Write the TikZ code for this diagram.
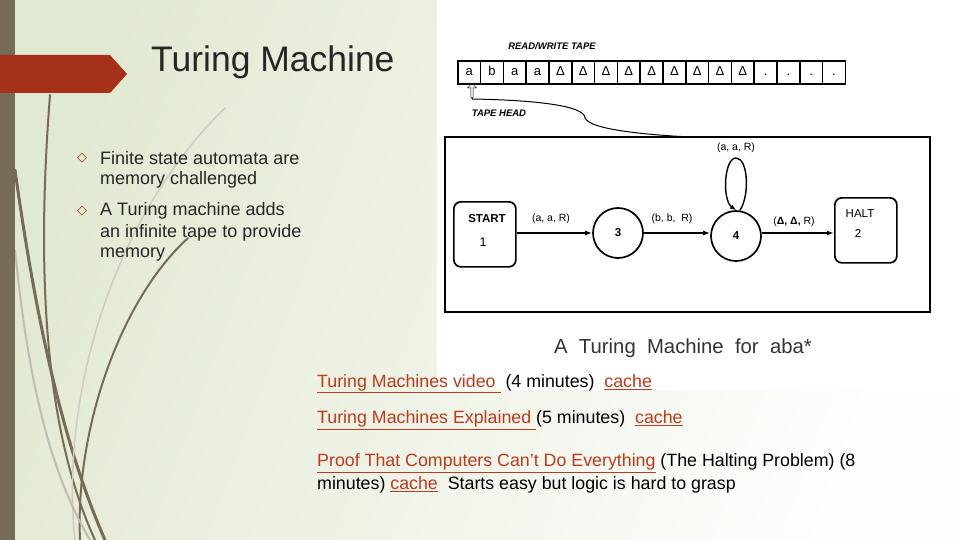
\documentclass[tikz,border=0pt]{standalone}
\usepackage{fontspec}
\setmainfont{Liberation Sans}
\newfontfamily\dejavu{DejaVu Sans}
\usetikzlibrary{arrows.meta,shapes.arrows}
\definecolor{bar}{HTML}{756B56}
\definecolor{tab}{HTML}{A5311A}
\definecolor{bgg}{HTML}{E2E9D2}
\definecolor{lnk}{HTML}{C0391B}
\begin{document}
\begin{tikzpicture}[x=1pt,y=-1pt,
  txt/.style={anchor=west,font=\fontsize{18}{21}\selectfont,text=black!85,inner sep=0pt},
  lnktxt/.style={anchor=west,font=\fontsize{17.8}{21}\selectfont,inner sep=0pt},
  cell/.style={draw,line width=1.6pt,minimum width=22.8pt,minimum height=23pt,inner sep=0pt,font=\fontsize{13}{14}\selectfont,anchor=north west,text height=8pt,text depth=1pt},
  state/.style={draw,line width=1.7pt,circle,minimum size=50pt,inner sep=0pt,font=\bfseries\fontsize{11.5}{12}\selectfont},
  sbox/.style={draw,line width=1.7pt,rounded corners=7pt,minimum width=62pt,minimum height=65pt,anchor=north west},
  lab/.style={font=\fontsize{10.5}{12}\selectfont,inner sep=0pt},
  tr/.style={line width=2pt,-{Latex[length=7pt,width=5pt]}},
  grass/.style={draw=bar,line cap=round}]
\useasboundingbox (0,0) rectangle (960,540);
\shade[left color=bgg,right color=white!97!bgg,shading angle=70] (0,0) rectangle (960,540);
\fill[white] (437,0) rectangle (960,390);
% grass
\path[grass,line width=2pt] (50,95) .. controls (38,250) and (40,420) .. (95,540);
\path[grass,line width=3pt] (15,170) .. controls (40,350) and (70,460) .. (105,540);
\path[grass,line width=2pt] (188,238) .. controls (120,300) and (75,430) .. (80,540);
\path[grass,draw=bar!35,line width=1.5pt] (225,108) .. controls (110,220) and (60,400) .. (75,540);
\path[grass,draw=bar!45,line width=2pt] (15,250) .. controls (30,400) and (55,480) .. (90,540);
\fill[bar] (0,0) rectangle (15,540);
\fill[tab] (0,55) -- (110,55) -- (127,74) -- (110,93) -- (0,93) -- cycle;
\node[anchor=west,font=\fontsize{35.5}{40}\selectfont,text=black!85,inner sep=0pt] (title) at (151,62) {Turing Machine};
% bullets
\node[text=tab,font=\dejavu\fontsize{13}{14}\selectfont,inner sep=0pt] (b1) at (82,158) {◇};
\node[txt] (t1) at (100,158) {Finite state automata are};
\node[txt] (t2) at (100,180) {memory challenged};
\node[text=tab,font=\dejavu\fontsize{13}{14}\selectfont,inner sep=0pt] (b2) at (82,211) {◇};
\node[txt] (t3) at (100,211) {A Turing machine adds};
\node[txt] (t4) at (100,233) {an infinite tape to provide};
\node[txt] (t5) at (100,255) {memory};
% tape
\node[font=\bfseries\itshape\fontsize{9.5}{10}\selectfont,inner sep=0pt] (rw) at (552,46) {READ/WRITE TAPE};
\foreach \s [count=\i from 0] in {a,b,a,a,Δ,Δ,Δ,Δ,Δ,Δ,Δ,Δ,Δ,.,.,.,.}
  \node[cell] (c\i) at (457+\i*22.8,60) {\s};
\node[single arrow,draw,shape border rotate=90,minimum height=14pt,minimum width=9pt,single arrow head extend=2pt,inner sep=0.5pt] (hd) at (472,91) {};
\node[font=\bfseries\itshape\fontsize{9.5}{10}\selectfont,inner sep=0pt] (th) at (499,113) {TAPE HEAD};
\coordinate (cb) at (690,137);
\draw[line width=1pt] (hd.south) -- (472,99) .. controls (530,100) and (585,105) .. (585,118) .. controls (590,130) and (650,135) .. (cb);
% machine box
\draw[line width=1.7pt] (445,137) rectangle (930,312);
\node[sbox] (start) at (453,201) {};
\node[font=\bfseries\fontsize{11.5}{12}\selectfont] (stl) at (487,219) {START};
\node[font=\fontsize{12.5}{13}\selectfont] (st1) at (483,242) {1};
\node[state] (s3) at (618,233) {3};
\node[state] (s4) at (736,236) {4};
\node[sbox] (halt) at (834,197) {};
\node[font=\fontsize{11.5}{12}\selectfont] (hl) at (860,214) {HALT};
\node[font=\fontsize{11.5}{12}\selectfont] (h2) at (858,233) {2};
\draw[tr] (start.east|-s3) -- (s3);
\draw[tr] (s3) -- (s4.west|-s3);
\draw[tr] (s4.east|-s3) -- (halt.west|-s3);
\draw[line width=1.4pt,-{Latex[length=6pt,width=5pt]}] (s4.north) ++(4,0) .. controls (750,195) and (748,158) .. (736,158) .. controls (724,158) and (722,200) .. (s4.north);
\node[lab] (l4) at (736,148) {(a, a, R)};
\node[lab] (l1) at (551,219) {(a, a, R)};
\node[lab] (l2) at (672,219) {(b, b,\ \ R)};
\node[lab] (l3) at (794,222) {(\textbf{Δ, Δ,} R)};
\node[font=\fontsize{20.3}{24}\selectfont,text=black!80,inner sep=0pt] (cap) at (683,348) {A\ \ Turing\ \ Machine\ \ for\ \ aba*};
% links
\node[lnktxt] (k1) at (317,384) {\textcolor{lnk}{\underline{Turing Machines video }} (4 minutes)\ \ \textcolor{lnk}{\underline{cache}}};
\node[lnktxt] (k2) at (317,420) {\textcolor{lnk}{\underline{Turing Machines Explained }}(5 minutes)\ \ \textcolor{lnk}{\underline{cache}}};
\node[lnktxt] (k3) at (317,463) {\textcolor{lnk}{\underline{Proof That Computers Can't Do Everything}} (The Halting Problem) (8};
\node[lnktxt] (k4) at (317,485) {minutes) \textcolor{lnk}{\underline{cache}}\ \ Starts easy but logic is hard to grasp};
\end{tikzpicture}
\end{document}
